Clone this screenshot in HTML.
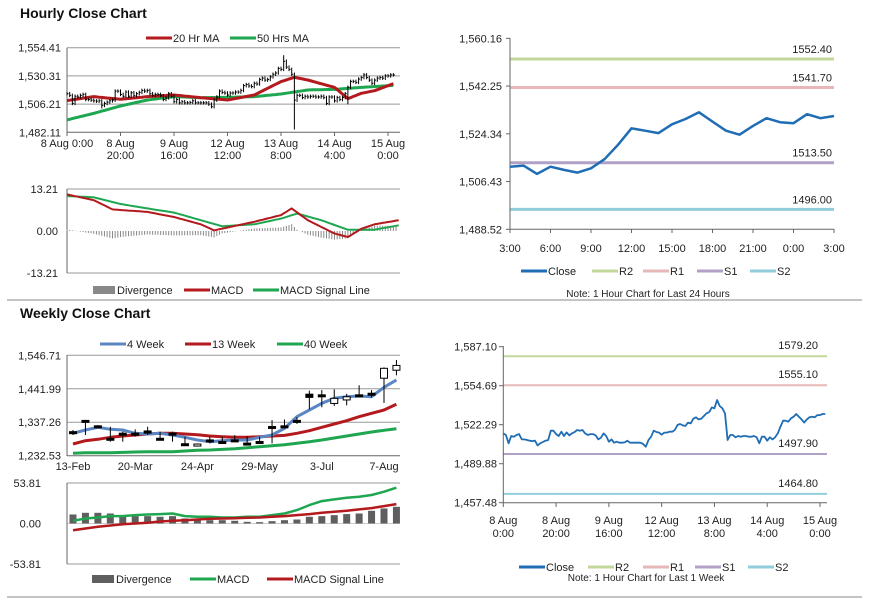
<!DOCTYPE html>
<html><head><meta charset="utf-8">
<style>
html,body{margin:0;padding:0;background:#fff;}
svg{display:block;font-family:"Liberation Sans",Arial,sans-serif;}
.t{font-size:11px;fill:#222;}
.lg{font-size:11px;fill:#222;}
.note{font-size:10px;fill:#222;}
.ttl{font-size:14px;font-weight:bold;fill:#111;}
</style></head>
<body>
<svg id="c" width="873" height="601" viewBox="0 0 873 601" xmlns="http://www.w3.org/2000/svg">
<text class="ttl" x="20" y="18">Hourly Close Chart</text>
<text class="ttl" x="20" y="318">Weekly Close Chart</text>
<line x1="7" y1="300" x2="862" y2="300" stroke="#888" stroke-width="1"/>
<line x1="7" y1="597" x2="862" y2="597" stroke="#888" stroke-width="1"/>
<g id="root"></g>
</svg>
<script>
// ---------- Hourly data (1 hour bars, 8 Aug 0:00 .. 15 Aug ~2:00) ----------
const hourlyClose=[1515.1,1513.7,1506.8,1512.9,1512.3,1513.7,1514.5,1510.1,1510.1,1509.6,1509.0,1508.7,1509.0,1505.1,1506.8,1507.9,1509.0,1509.6,1517.3,1517.3,1514.5,1512.9,1516.5,1512.9,1515.9,1513.4,1515.1,1516.2,1517.9,1517.3,1517.9,1515.1,1513.7,1514.5,1514.5,1513.4,1510.1,1511.5,1515.1,1512.9,1508.2,1510.1,1507.3,1508.2,1507.3,1507.3,1507.6,1509.0,1507.3,1507.3,1507.3,1507.3,1507.3,1506.2,1504.0,1509.6,1512.3,1517.3,1516.2,1515.7,1514.0,1515.7,1515.7,1516.5,1516.5,1517.9,1522.0,1522.9,1521.7,1521.2,1524.0,1523.4,1527.3,1528.4,1526.7,1527.3,1529.5,1531.7,1532.8,1536.7,1535.9,1542.8,1537.8,1535.9,1531.7,1509.6,1513.7,1513.7,1511.8,1512.9,1512.3,1512.9,1512.9,1512.3,1512.3,1512.9,1511.8,1506.8,1512.3,1512.3,1509.0,1511.8,1510.1,1511.8,1515.1,1520.6,1525.6,1525.6,1524.8,1527.6,1528.9,1531.2,1528.9,1526.7,1524.0,1526.7,1528.4,1528.9,1528.4,1530.3,1530.3,1531.2,1531.2];
const wickIdx=[81,85,13,54,105];
const wickVal=[1548.0,1484.5,1502.5,1503.0,1506.0];
const hourTickIdx=[0,20,40,60,80,100,120];
const hourTickL1=["8 Aug 0:00","8 Aug","9 Aug","12 Aug","13 Aug","14 Aug","15 Aug"];
const hourTickL2=["","20:00","16:00","12:00","8:00","4:00","0:00"];
const hourPriceTicks=[1482.11,1506.21,1530.31,1554.41];
const maIdx20=[0,10,20,30,40,50,60,70,80,85,90,100,105,110,115,124];
const ma20=[1509.2,1512.6,1510.3,1512.6,1514.0,1511.7,1509.7,1514.0,1525.4,1529.1,1526.8,1520.5,1510.9,1515.4,1517.7,1525.4];
const maIdx50=[0,10,20,30,40,50,60,70,80,90,100,110,124];
const ma50=[1492.7,1498.3,1504.6,1509.7,1512.6,1511.7,1512.0,1512.6,1514.8,1518.3,1518.8,1520.5,1522.5];
const macdIdxH=[0,10,17,30,40,50,55,60,70,80,84,90,100,105,110,115,124];
const macdH=[11.5,9.7,6.8,6.0,4.4,2.1,0.2,1.1,2.9,5.0,7.1,3.4,-0.8,-1.9,0.7,2.1,3.4];
const sigIdxH=[0,10,20,30,40,50,58,70,80,86,95,105,115,124];
const sigH=[11.0,10.6,8.5,7.1,5.8,3.4,1.5,2.1,3.9,5.5,3.4,0.4,0.4,1.8];
const macdHTicks=[-13.21,0,13.21];
// ---------- 24h pivot chart ----------
const close24=[1512.0,1512.4,1509.3,1512.0,1510.8,1509.8,1511.4,1514.8,1520.2,1526.4,1525.5,1524.6,1527.9,1529.9,1532.4,1528.9,1525.5,1524.0,1527.3,1530.2,1528.7,1528.3,1531.7,1530.2,1531.0];
const labels24=["3:00","6:00","9:00","12:00","15:00","18:00","21:00","0:00","3:00"];
const ticks24=[1488.52,1506.43,1524.34,1542.25,1560.16];
const pivot24=[1552.40,1541.70,1513.50,1496.00];
const pivotW=[1579.20,1555.10,1497.90,1464.80];
const ticksWeekPivot=[1457.48,1489.88,1522.29,1554.69,1587.10];
// ---------- Weekly data ----------
const wkOpen=[1307.7,1343,1326,1287,1303,1303,1310,1287,1303,1270,1263,1282,1277,1282,1272,1277,1324,1326,1343,1425,1423,1396,1407,1423,1428,1475,1500];
const wkClose=[1302.5,1341,1325,1286,1302,1302,1303,1286,1302,1269,1269,1281,1276,1281,1271,1276,1323,1325,1342,1415,1422,1412,1417,1422,1427,1506,1515];
const wkHigh=[1312.9,1344.2,1328.5,1323.3,1307.7,1315,1323.3,1307.7,1307.7,1292,1271,1292,1292,1297,1294,1292,1344,1346,1353,1436,1438,1440,1426,1453,1438,1509,1532];
const wkLow=[1297.2,1297.2,1318.1,1276.4,1276.4,1292,1297.2,1281.6,1276.4,1269,1261,1271,1269,1276,1266,1269,1271,1318,1332,1378,1384,1388,1390,1417,1415,1398,1484];
const ma4w=[1302.5,1312.9,1321.3,1315.0,1312.9,1302.5,1300.4,1302.5,1297.2,1290.0,1281.6,1276.4,1279.5,1281.6,1281.6,1290.0,1297.2,1318.1,1354.7,1375.5,1396.4,1412.1,1417.3,1419.4,1417.3,1446.5,1469.5];
const ma13w=[1269.1,1279.5,1283.7,1290.0,1294.1,1297.2,1300.4,1302.5,1302.5,1300.4,1298.3,1294.1,1292.0,1290.0,1290.0,1292.0,1294.1,1296.2,1302.5,1310.8,1321.3,1331.7,1342.1,1354.7,1365.1,1375.5,1393.3];
const ma40w=[1239.9,1241.9,1241.9,1241.9,1243.0,1244.0,1245.1,1245.1,1245.1,1247.2,1249.3,1250.3,1252.4,1254.5,1257.6,1260.7,1263.9,1267.0,1271.2,1276.4,1281.6,1287.9,1294.1,1300.4,1306.7,1311.9,1317.1];
const wkTickIdx=[0,5,10,15,20,25];
const wkTickLabels=["13-Feb","20-Mar","24-Apr","29-May","3-Jul","7-Aug"];
const wkPriceTicks=[1232.53,1337.26,1441.99,1546.71];
const wkDiv=[12.0,14.2,14.2,13.3,11.1,9.8,9.8,8.9,9.8,6.7,5.3,4.4,4.4,3.6,2.2,1.8,3.1,4.4,5.3,8.9,9.8,11.1,12.5,13.3,16.9,20.0,22.2];
const wkMacd=[3.6,6.7,8.0,9.8,9.8,11.1,12.0,12.5,13.3,9.8,8.9,8.9,8.0,8.0,8.9,8.9,11.1,13.3,17.8,24.5,29.8,32.0,34.3,35.6,37.8,42.3,47.6];
const wkSig=[-8.9,-6.7,-4.4,-2.7,-0.9,0,0.9,2.7,3.6,4.4,5.3,6.2,6.7,7.1,7.6,8.0,8.9,9.8,11.1,12.5,14.2,15.6,16.9,18.7,20.5,23.1,25.8];
const macdWTicks=[-53.81,0,53.81];

const NS="http://www.w3.org/2000/svg";
const root=document.getElementById('root');
function el(tag,attrs,parent){const e=document.createElementNS(NS,tag);for(const k in attrs)e.setAttribute(k,attrs[k]);(parent||root).appendChild(e);return e;}
function lin(d0,d1,r0,r1){return v=>r0+(v-d0)*(r1-r0)/(d1-d0);}
function fmt(v){return v.toLocaleString('en-US',{minimumFractionDigits:2,maximumFractionDigits:2});}
function txt(x,y,s,anchor,cls,name){const t=el('text',{x:x,y:y,'text-anchor':anchor||'start',class:cls||'t'});t.textContent=s;

return t;}
function poly(pts,color,w,name){const p=el('polyline',{points:pts.map(p=>p[0].toFixed(1)+','+p[1].toFixed(1)).join(' '),fill:'none',stroke:color,'stroke-width':w,'stroke-linejoin':'round'});

return p;}
function interp(idx,vals,i){for(let k=0;k<idx.length-1;k++){if(i>=idx[k]&&i<=idx[k+1]){return vals[k]+(vals[k+1]-vals[k])*(i-idx[k])/(idx[k+1]-idx[k]);}}return vals[vals.length-1];}
function legend(items,y){items.forEach(it=>{
  if(it.box){const r=el('rect',{x:it.x,y:y-6,width:22,height:8,fill:it.color});
   
   }
  else{const l=el('line',{x1:it.x,y1:y-2,x2:it.x+26,y2:y-2,stroke:it.color,'stroke-width':it.w||3});
   
   }
  txt(it.x+(it.box?24:27),y+2,it.label,'start','lg','legend-entry');});}
const C_RED='#b4191d',C_GRN='#1ea650',C_BLUE='#1f6db4',C_WB='#5a86c3';
const PIV=['#c4d79b','#e6b8b7','#b2a1c7','#92cddc'];

// ===== Hourly main chart =====
{
 const x=lin(0,120,67,388), y=lin(1482.11,1554.41,132.3,47.7);
 hourPriceTicks.forEach((v,k)=>{const g=el('line',{x1:67,x2:400,y1:y(v),y2:y(v),stroke:k==0?'#666':'#999','stroke-width':1});
  
  
  txt(61,y(v)+4,fmt(v),'end','t','y-tick-label');});
 el('line',{x1:67,x2:67,y1:47.7,y2:132.3,stroke:'#666'});
 hourTickIdx.forEach((i,k)=>{el('line',{x1:x(i),x2:x(i),y1:132,y2:136,stroke:'#666'});
  txt(x(i),147,hourTickL1[k],'middle','t','x-tick-label');
  if(hourTickL2[k])txt(x(i),159,hourTickL2[k],'middle','t','x-tick-label');});
 poly(hourlyClose.map((v,i)=>[x(i),y(interp(maIdx50,ma50,i))]),C_GRN,3,'ma-50-line');
 poly(hourlyClose.map((v,i)=>[x(i),y(interp(maIdx20,ma20,i))]),C_RED,3,'ma-20-line');
 hourlyClose.forEach((v,i)=>{const p=i?hourlyClose[i-1]:v;let hi=Math.max(p,v)+1.5,lo=Math.min(p,v)-1.5;
  const w=wickIdx.indexOf(i);if(w>=0){hi=Math.max(hi,wickVal[w]);lo=Math.min(lo,wickVal[w]);}
  const s=el('line',{x1:x(i),x2:x(i),y1:y(hi),y2:y(lo),stroke:'#000','stroke-width':1});
  
  
  el('line',{x1:x(i),x2:x(i)+1.5,y1:y(v),y2:y(v),stroke:'#000','stroke-width':1});});
 legend([{x:146,color:C_RED,label:'20 Hr MA'},{x:230,color:C_GRN,label:'50 Hrs MA'}],40);
}
// ===== Hourly MACD =====
{
 const x=lin(0,120,67,388), y=lin(-13.21,13.21,273,189);
 [13.21,-13.21].forEach(v=>{el('line',{x1:67,x2:400,y1:y(v),y2:y(v),stroke:'#999'});});
 el('line',{x1:67,x2:67,y1:189,y2:273,stroke:'#666'});
 macdHTicks.forEach(v=>txt(58,y(v)+4,fmt(v),'end','t','macd-y-tick'));
 for(let i=0;i<=123;i++){const d=interp(macdIdxH,macdH,i)-interp(sigIdxH,sigH,i);
  const b=el('line',{x1:x(i),x2:x(i),y1:y(0),y2:y(d),stroke:'#888','stroke-width':1});
  
  }
 const idx=[];for(let i=0;i<=124;i++)idx.push(i);
 poly(idx.map(i=>[x(i),y(interp(sigIdxH,sigH,i))]),C_GRN,2,'macd-signal-line');
 poly(idx.map(i=>[x(i),y(interp(macdIdxH,macdH,i))]),C_RED,2,'macd-line');
 legend([{x:93,color:'#888',label:'Divergence',box:true},{x:184,color:C_RED,label:'MACD'},{x:253,color:C_GRN,label:'MACD Signal Line'}],292);
}
// ===== 24h pivot chart =====
{
 const x=lin(0,24,510,834), y=lin(1488.52,1560.16,229.3,38.3);
 const pn=['r2-line','r1-line','s1-line','s2-line'];
 pivot24.forEach((v,k)=>{const l=el('line',{x1:510,x2:834,y1:y(v),y2:y(v),stroke:PIV[k],'stroke-width':3});
  
  
  txt(832,y(v)-6,v.toFixed(2),'end','t','pivot-value-label');});
 el('line',{x1:510,x2:510,y1:38,y2:230,stroke:'#666'});
 el('line',{x1:510,x2:834,y1:229.3,y2:229.3,stroke:'#666'});
 ticks24.forEach(v=>{el('line',{x1:506,x2:510,y1:y(v),y2:y(v),stroke:'#666'});txt(502,y(v)+4,fmt(v),'end','t','y-tick-label');});
 labels24.forEach((s,k)=>{el('line',{x1:x(k*3),x2:x(k*3),y1:229,y2:233,stroke:'#666'});txt(x(k*3),252,s,'middle','t','x-tick-label');});
 poly(close24.map((v,i)=>[x(i),y(v)]),C_BLUE,2.5,'close-line-24h');
 legend([{x:521,color:C_BLUE,label:'Close'},{x:592,color:PIV[0],label:'R2'},{x:643,color:PIV[1],label:'R1'},{x:697,color:PIV[2],label:'S1'},{x:750,color:PIV[3],label:'S2'}],273);
 txt(648,297,'Note: 1 Hour Chart for Last 24 Hours','middle','note','chart-note');
}
// ===== Weekly main =====
{
 const x=lin(0,25,73,384), y=lin(1232.53,1546.71,455.7,355.3);
 wkPriceTicks.forEach((v,k)=>{el('line',{x1:67,x2:400,y1:y(v),y2:y(v),stroke:k==0?'#666':'#999'});txt(61,y(v)+4,fmt(v),'end','t','y-tick-label');});
 el('line',{x1:67,x2:67,y1:355,y2:456,stroke:'#666'});
 wkTickIdx.forEach((i,k)=>txt(x(i),470,wkTickLabels[k],'middle','t','x-tick-label'));
 poly(ma40w.map((v,i)=>[x(i),y(v)]),C_GRN,3,'ma-40-week');
 poly(ma13w.map((v,i)=>[x(i),y(v)]),C_RED,3,'ma-13-week');
 poly(ma4w.map((v,i)=>[x(i),y(v)]),C_WB,3,'ma-4-week');
 wkClose.forEach((c,i)=>{const o=wkOpen[i];
  const w=el('line',{x1:x(i),x2:x(i),y1:y(wkHigh[i]),y2:y(wkLow[i]),stroke:'#000'});
  
  
  const top=y(Math.max(o,c)),h=Math.max(2,Math.abs(y(o)-y(c)));
  const r=el('rect',{x:x(i)-3.5,y:top,width:7,height:h,fill:c>=o?'#fff':'#000',stroke:'#000','stroke-width':1});
  
  });
 legend([{x:100,color:C_WB,label:'4 Week'},{x:185,color:C_RED,label:'13 Week'},{x:277,color:C_GRN,label:'40 Week'}],346);
}
// ===== Weekly MACD =====
{
 const x=lin(0,25,73,384), y=lin(-53.81,53.81,564,483);
 [53.81,-53.81].forEach(v=>el('line',{x1:67,x2:400,y1:y(v),y2:y(v),stroke:'#999'}));
 el('line',{x1:67,x2:400,y1:y(0),y2:y(0),stroke:'#ccc'});
 el('line',{x1:67,x2:67,y1:483,y2:564,stroke:'#666'});
 macdWTicks.forEach(v=>txt(41,y(v)+4,fmt(v),'end','t','macd-y-tick'));
 wkDiv.forEach((d,i)=>{const b=el('rect',{x:x(i)-3.5,y:Math.min(y(d),y(0)),width:7,height:Math.abs(y(d)-y(0)),fill:'#5f5f5f'});
  
  });
 poly(wkMacd.map((v,i)=>[x(i),y(v)]),C_GRN,2.5,'weekly-macd-line');
 poly(wkSig.map((v,i)=>[x(i),y(v)]),C_RED,2.5,'weekly-signal-line');
 legend([{x:92,color:'#5f5f5f',label:'Divergence',box:true},{x:190,color:C_GRN,label:'MACD'},{x:267,color:C_RED,label:'MACD Signal Line'}],581);
}
// ===== Weekly pivot (1 hour, last week) =====
{
 const x=lin(0,120,503.3,820), y=lin(1457.48,1587.10,502.7,346.7);
 const pn=['r2-line','r1-line','s1-line','s2-line'];
 pivotW.forEach((v,k)=>{const l=el('line',{x1:503,x2:827,y1:y(v),y2:y(v),stroke:PIV[k],'stroke-width':2});
  
  
  txt(818,y(v)-7,v.toFixed(2),'end','t','pivot-value-label');});
 el('line',{x1:503.3,x2:503.3,y1:346,y2:503,stroke:'#666'});
 el('line',{x1:503.3,x2:827,y1:502.7,y2:502.7,stroke:'#666'});
 ticksWeekPivot.forEach(v=>{el('line',{x1:499,x2:503,y1:y(v),y2:y(v),stroke:'#666'});txt(497,y(v)+4,fmt(v),'end','t','y-tick-label');});
 hourTickIdx.forEach((i,k)=>{el('line',{x1:x(i),x2:x(i),y1:503,y2:507,stroke:'#666'});
  const l1=k==0?'8 Aug':hourTickL1[k];const l2=k==0?'0:00':hourTickL2[k];
  txt(x(i),524,l1,'middle','t','x-tick-label');txt(x(i),537,l2,'middle','t','x-tick-label');});
 poly(hourlyClose.map((v,i)=>[x(i),y(v)]),C_BLUE,1.8,'close-line-week');
 legend([{x:519,color:C_BLUE,label:'Close'},{x:588,color:PIV[0],label:'R2'},{x:643,color:PIV[1],label:'R1'},{x:695,color:PIV[2],label:'S1'},{x:748,color:PIV[3],label:'S2'}],569);
 txt(646,581,'Note: 1 Hour Chart for Last 1 Week','middle','note','chart-note');
}
</script>
</body></html>
